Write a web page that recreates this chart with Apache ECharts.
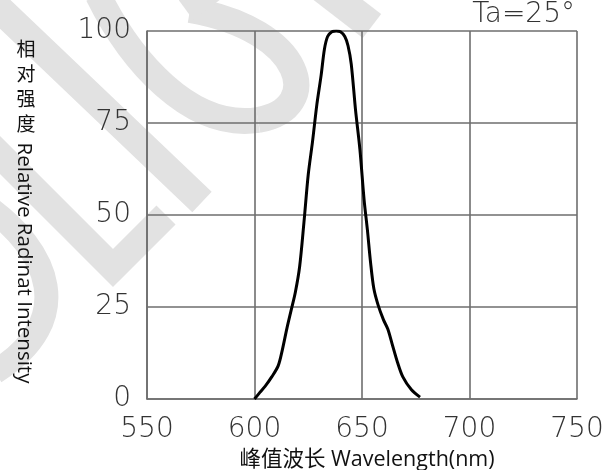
<!DOCTYPE html>
<html>
<head>
<meta charset="utf-8">
<script src="https://cdn.jsdelivr.net/npm/echarts@6/dist/echarts.min.js"></script>
<style>
html,body{margin:0;padding:0;background:#fff;overflow:hidden;}
#chart{width:615px;height:470px;}
</style>
</head>
<body>
<div id="chart"></div>
<script>
// Data
const wavelength = [600, 602.5, 605, 608, 611, 613, 615, 617, 619, 621, 623, 625, 627, 629, 631, 632.5, 634, 636, 638, 640, 642, 643.5, 645, 647, 649, 651, 652.5, 654, 655.5, 657.5, 660, 662, 664, 666.5, 669, 673, 677];
const intensity  = [0, 1.8, 3.5, 6, 9, 13.5, 19, 24, 29, 36, 48, 61, 70, 80, 88, 95, 98.5, 99.8, 100, 99.8, 98.5, 96, 91, 78.5, 68, 54, 46, 37, 30, 25.5, 21.5, 19, 15, 10, 6, 2.5, 0.5];
const xTicks = [550, 600, 650, 700, 750];
const yTicks = [0, 25, 50, 75, 100];
const titleText = 'Ta=25°';
const yNameCN = '相对强度';
const yNameEN = 'Relative Radinat Intensity';
const xName = '峰值波长 Wavelength(nm)';

const chart = echarts.init(document.getElementById('chart'));
const seriesData = wavelength.map((w, i) => [w, intensity[i]]);
const tickFont = {fontFamily: 'DejaVu Sans', fontWeight: 200, fontSize: 28, color: '#333'};
const gridColor = '#6e6e6e';
const wm = '#e2e2e2';

function band(points, w) {
  return {type: 'polyline', z: -10, silent: true, shape: {points: points},
    style: {stroke: wm, lineWidth: w || 26, fill: null, lineJoin: 'miter', lineCap: 'butt'}};
}
function curve(x1, y1, c1x, c1y, c2x, c2y, x2, y2, w) {
  return {type: 'bezierCurve', z: -10, silent: true,
    shape: {x1: x1, y1: y1, cpx1: c1x, cpy1: c1y, cpx2: c2x, cpy2: c2y, x2: x2, y2: y2},
    style: {stroke: wm, lineWidth: w || 26, fill: null, lineCap: 'butt'}};
}

chart.setOption({
  animation: false,
  backgroundColor: '#fff',
  grid: {left: 147, right: 38, top: 31, bottom: 71, containLabel: false, outerBoundsMode: 'none'},
  xAxis: {
    type: 'value', min: xTicks[0], max: xTicks[xTicks.length - 1], interval: 50,
    name: xName, nameLocation: 'middle', nameGap: 43,
    nameTextStyle: {fontFamily: '"Open Sans", "Noto Sans CJK SC"', fontSize: 21.5, color: '#111', padding: [0, 0, 0, 10]},
    axisLine: {lineStyle: {color: gridColor, width: 1.6}},
    axisTick: {show: false},
    axisLabel: Object.assign({margin: 17}, tickFont),
    splitLine: {show: true, lineStyle: {color: gridColor, width: 1.6}}
  },
  yAxis: {
    type: 'value', min: yTicks[0], max: yTicks[yTicks.length - 1], interval: 25,
    axisLine: {show: true, lineStyle: {color: gridColor, width: 1.6}},
    axisTick: {show: false},
    axisLabel: Object.assign({margin: 16}, tickFont),
    splitLine: {show: true, lineStyle: {color: gridColor, width: 1.6}}
  },
  series: [{
    type: 'line', data: seriesData, showSymbol: false, smooth: 0.3,
    lineStyle: {color: '#000', width: 3}, z: 5
  }],
  graphic: [
    // watermark (light grey logo strokes)
    band([[-14, -4], [202, 202]], 28),
    band([[-12, 143], [113, 268], [166, 215]], 27),
    curve(-15, 205, 50, 250, 78, 320, -5, 372, 24),
    curve(98, -5, 130, 60, 190, 130, 258, 120, 26),
    curve(258, 120, 325, 108, 305, 30, 190, 10, 26),
    band([[186, 10], [240, -30]], 24),
    band([[320, -14], [372, 26]], 30),
    // texts
    {type: 'text', x: 575, y: 15, style: {text: titleText, textAlign: 'right', textVerticalAlign: 'middle',
      fontFamily: 'DejaVu Sans', fontWeight: 200, fontSize: 28, fill: '#333'}},
    {type: 'text', x: 26, y: 36, style: {text: yNameCN.split('').join('\n'), textAlign: 'center', textVerticalAlign: 'top',
      fontFamily: 'Noto Sans CJK SC', fontSize: 19, lineHeight: 25, fill: '#111'}},
    {type: 'text', x: 24, y: 263, rotation: -Math.PI / 2, style: {text: yNameEN, textAlign: 'center', textVerticalAlign: 'middle',
      fontFamily: 'Open Sans', fontSize: 20.5, fill: '#111'}}
  ]
});
</script>
</body>
</html>
